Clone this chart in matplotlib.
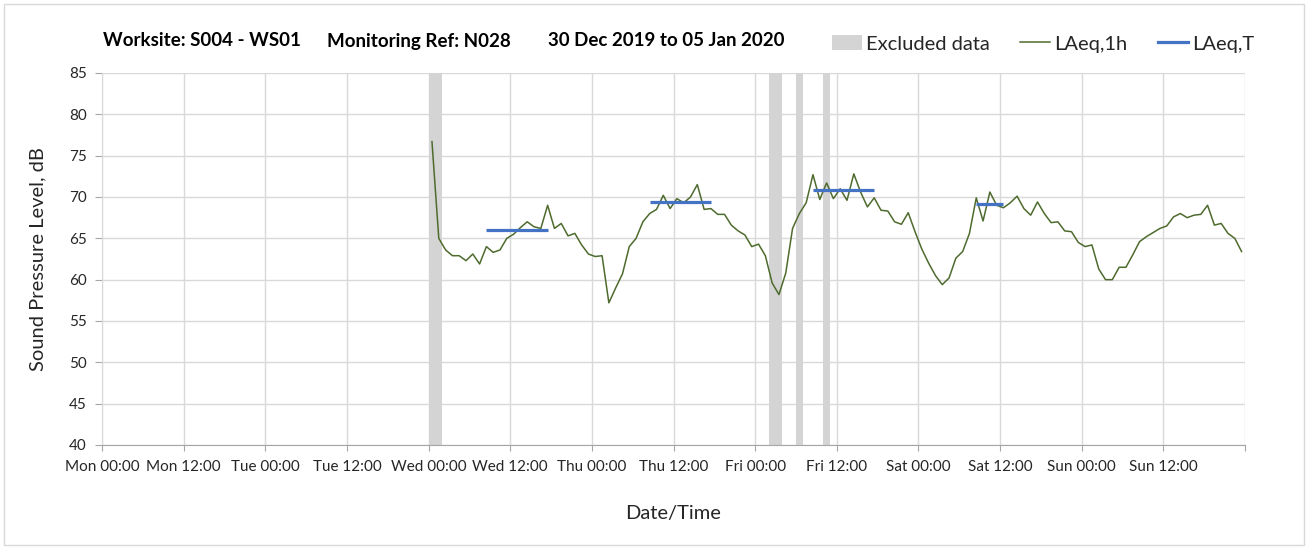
import matplotlib
matplotlib.use("Agg")
import matplotlib.pyplot as plt
from matplotlib.patches import Rectangle, Patch
from matplotlib.lines import Line2D
import numpy as np

plt.rcParams['font.family'] = ['Lato', 'DejaVu Sans']

# ---- data ----
tick_labels = ["Mon 00:00", "Mon 12:00", "Tue 00:00", "Tue 12:00", "Wed 00:00", "Wed 12:00",
               "Thu 00:00", "Thu 12:00", "Fri 00:00", "Fri 12:00", "Sat 00:00", "Sat 12:00",
               "Sun 00:00", "Sun 12:00"]
tick_hours = [0, 12, 24, 36, 48, 60, 72, 84, 96, 108, 120, 132, 144, 156, 168]

# hourly LAeq,1h from Wed 00:00 (hour 48) to Sun 23:00 (hour 167), plotted at mid-hour
first_hour = 48
laeq_1h = [76.7, 65.0, 63.6, 62.9, 62.9, 62.3, 63.1, 61.9, 64.0, 63.3,
           63.6, 65.0, 65.5, 66.3, 67.0, 66.4, 66.2, 69.0, 66.2, 66.8,
           65.3, 65.6, 64.2, 63.1, 62.8, 62.9, 57.2, 59.0, 60.7, 64.0,
           65.0, 67.0, 68.0, 68.5, 70.2, 68.6, 69.8, 69.3, 70.0, 71.5,
           68.5, 68.6, 67.9, 67.9, 66.6, 65.9, 65.4, 64.0, 64.3, 62.9,
           59.6, 58.2, 60.8, 66.2, 68.0, 69.3, 72.7, 69.7, 71.7, 69.8,
           71.0, 69.6, 72.8, 70.6, 68.8, 69.9, 68.4, 68.3, 67.0, 66.7,
           68.1, 65.8, 63.7, 62.0, 60.5, 59.4, 60.2, 62.6, 63.4, 65.6,
           69.9, 67.1, 70.6, 69.0, 68.7, 69.3, 70.1, 68.6, 67.8, 69.4,
           68.0, 66.9, 67.0, 65.9, 65.8, 64.5, 64.0, 64.2, 61.3, 60.0,
           60.0, 61.5, 61.5, 63.0, 64.6, 65.2, 65.7, 66.2, 66.5, 67.6,
           68.0, 67.5, 67.8, 67.9, 69.0, 66.6, 66.8, 65.6, 65.0, 63.4]

# LAeq,T periods: (start hour, end hour, level)
laeq_t_start = [56.5, 80.5, 104.5, 128.5]
laeq_t_end = [65.5, 89.5, 113.5, 132.5]
laeq_t_value = [66.0, 69.4, 70.8, 69.2]

# Excluded data periods (start hour, end hour)
excl_start = [48, 98, 102, 106]
excl_end = [50, 100, 103, 107]

# ---- figure ----
W, H = 1309, 549
fig = plt.figure(figsize=(W / 100, H / 100), dpi=100)
fig.patches.append(Rectangle((4 / W, 4 / H), 1300 / W, 541 / H, transform=fig.transFigure,
                             fill=False, edgecolor="#d9d9d9", lw=1.0))
ax = fig.add_axes([102 / W, 1 - 445 / H, (1245 - 102) / W, (445 - 73) / H])

for s, e in zip(excl_start, excl_end):
    ax.axvspan(s, e, color="#d4d4d4", lw=0, zorder=1)

hours = np.arange(len(laeq_1h)) + first_hour + 0.5
ax.plot(hours, laeq_1h, color="#4e6b2e", lw=1.1, zorder=3)

for s, e, v in zip(laeq_t_start, laeq_t_end, laeq_t_value):
    ax.plot([s, e], [v, v], color="#4472c4", lw=2.3, solid_capstyle="butt", zorder=4)

ax.set_xlim(0, 168)
ax.set_ylim(40, 85)
ax.set_xticks(tick_hours)
ax.set_xticklabels(tick_labels + [""], fontsize=11, color="#262626")
ax.set_yticks(np.arange(40, 86, 5))
ax.set_yticklabels([str(v) for v in range(40, 86, 5)], fontsize=11, color="#262626")
ax.grid(True, color="#d9d9d9", lw=1.0, zorder=0)
ax.set_axisbelow(True)
for sp in ["top", "right"]:
    ax.spines[sp].set_visible(False)
ax.spines["left"].set_color("#d9d9d9")
ax.spines["bottom"].set_color("#a6a6a6")
ax.tick_params(axis="y", length=5, color="#a6a6a6", pad=6)
ax.tick_params(axis="x", length=4, color="#a6a6a6", pad=7)

ax.set_ylabel("Sound Pressure Level, dB", fontsize=14.5, color="#262626", labelpad=16)
ax.set_xlabel("Date/Time", fontsize=14.5, color="#262626", labelpad=22)

# title pieces
ty = 1 - 41 / H
fig.text(103 / W, ty, "Worksite: S004 - WS01", fontsize=13.5, fontweight="bold", va="center")
fig.text(327 / W, ty, "Monitoring Ref: N028", fontsize=13.5, fontweight="bold", va="center")
fig.text(548 / W, ty, "30 Dec 2019 to 05 Jan 2020", fontsize=13.5, fontweight="bold", va="center")

handles = [Patch(facecolor="#d4d4d4", edgecolor="none"),
           Line2D([], [], color="#4e6b2e", lw=1.1),
           Line2D([], [], color="#4472c4", lw=2.3)]
fig.legend(handles, ["Excluded data", "LAeq,1h", "LAeq,T"], loc="center right",
           bbox_to_anchor=(1272 / W, 1 - 44 / H), ncol=3, frameon=False, fontsize=14.5,
           handlelength=1.5, handletextpad=0.2, columnspacing=1.5, labelcolor="#262626")

fig.savefig("out.png", dpi=100)
